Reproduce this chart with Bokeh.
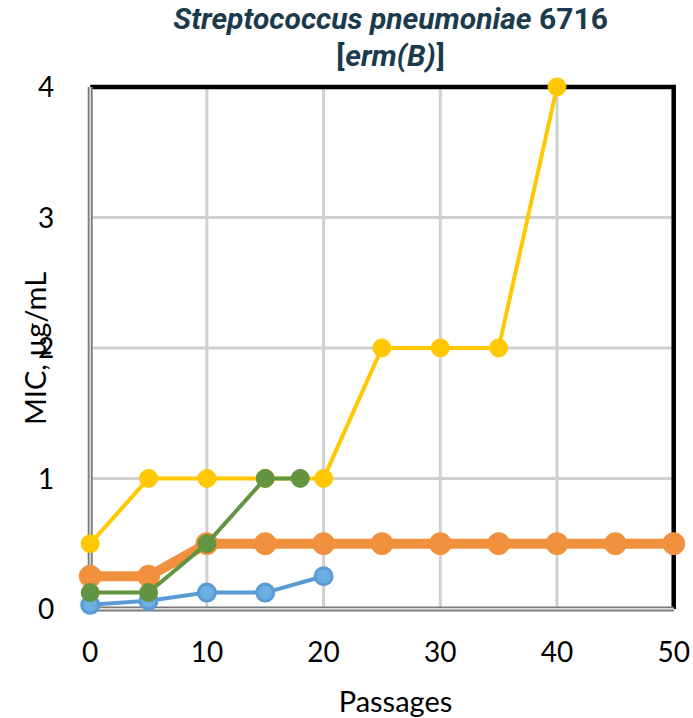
import math
from bokeh.plotting import figure
from bokeh.models import FixedTicker, Range1d, Label
from bokeh.embed import file_html
from bokeh.resources import INLINE

# ---- data ----
x_ticks = [0, 10, 20, 30, 40, 50]
y_ticks = [0, 1, 2, 3, 4]

passages_blue = [0, 5, 10, 15, 20]
mic_blue = [0.03125, 0.0625, 0.125, 0.125, 0.25]

passages_orange = [0, 5, 10, 15, 20, 25, 30, 35, 40, 45, 50]
mic_orange = [0.25, 0.25, 0.5, 0.5, 0.5, 0.5, 0.5, 0.5, 0.5, 0.5, 0.5]

passages_yellow = [0, 5, 10, 15, 20, 25, 30, 35, 40]
mic_yellow = [0.5, 1, 1, 1, 1, 2, 2, 2, 4]

passages_green = [0, 5, 10, 15, 18]
mic_green = [0.125, 0.125, 0.5, 1, 1]

title_species = "Streptococcus pneumoniae"
title_strain = "6716"
title_gene = "erm(B)"
x_label = "Passages"
y_label = "MIC, \u00b5g/mL"

FONT = "Lato"
TITLE_FONT = "Roboto"
TITLE_COLOR = "#1B3A4D"

# ---- layout: the frame fills the whole canvas, axes sit at x=0 / y=0 ----
W, H = 693, 718
PX_X, X_ZERO_PX = 11.67, 89.7     # px per passage, canvas x of passage 0
PX_Y, Y_TOP_PX = 130.5, 86.4      # px per MIC unit, canvas y of MIC 4
X0 = -X_ZERO_PX / PX_X
X1 = X0 + W / PX_X
Y1 = y_ticks[-1] + Y_TOP_PX / PX_Y
Y0 = Y1 - H / PX_Y

def cx(px):
    return X0 + px / PX_X
def cy(py):
    return Y1 - py / PX_Y

p = figure(
    width=W, height=H,
    x_range=Range1d(X0, X1), y_range=Range1d(Y0, Y1),
    output_backend="svg", toolbar_location=None,
    min_border=0,
)
p.title.visible = False
p.outline_line_color = None
p.grid.visible = False
p.background_fill_color = "white"
p.border_fill_color = "white"

# gridlines
p.segment(x0=x_ticks[1:-1], y0=[y_ticks[0]] * 4, x1=x_ticks[1:-1], y1=[y_ticks[-1]] * 4,
          line_color="#D0D0D0", line_width=3)
p.segment(x0=[x_ticks[0]] * 3, y0=y_ticks[1:-1], x1=[x_ticks[-1]] * 3, y1=y_ticks[1:-1],
          line_color="#D0D0D0", line_width=3)

# box: top/right black, left/bottom gray double lines
p.line([x_ticks[0], x_ticks[-1], x_ticks[-1]], [y_ticks[-1], y_ticks[-1], y_ticks[0]],
       line_color="black", line_width=4.5, line_join="miter")
for w, c in ((5, "#7A7A7A"), (1.6, "#DADADA")):
    p.line([x_ticks[0], x_ticks[0], x_ticks[-1]], [y_ticks[-1], y_ticks[0], y_ticks[0]],
           line_color=c, line_width=w, line_join="miter")

# series
p.line(passages_blue, mic_blue, line_color="#5B9BD5", line_width=4)
p.scatter(passages_blue, mic_blue, size=17, fill_color="#6AAEE2", line_color="#5B9BD5", line_width=3)

p.line(passages_orange, mic_orange, line_color="#F2913D", line_width=10)
p.scatter(passages_orange, mic_orange, size=22, fill_color="#F2913D", line_color="#F2913D")

p.line(passages_yellow, mic_yellow, line_color="#FFC800", line_width=4)
p.scatter(passages_yellow, mic_yellow, size=18, fill_color="#FFC800", line_color="#FFC800")

p.line(passages_green, mic_green, line_color="#629441", line_width=4)
p.scatter(passages_green, mic_green, size=18, fill_color="#629441", line_color="#629441")

# title (bold; species and gene in italics)
def tlabel(text, x, y, align, style, font=TITLE_FONT, size="30px", color=TITLE_COLOR, angle=0):
    p.add_layout(Label(x=x, y=y, text=text, text_align=align, text_baseline="alphabetic",
                       text_font=font, text_font_size=size, text_font_style=style,
                       text_color=color, angle=angle))

junction = 531
tlabel(title_species, cx(junction), cy(18), "right", "bold italic")
tlabel(title_strain, cx(junction + 7.5), cy(18), "left", "bold")
center, half = 390, 46
tlabel(title_gene, cx(center), cy(55), "center", "bold italic")
tlabel("[", cx(center - half), cy(55), "right", "bold")
tlabel("]", cx(center + half), cy(55), "left", "bold")

# axis titles
tlabel(x_label, cx(395), cy(700), "center", "normal", font=FONT, size="29px", color="black")
tlabel(y_label, cx(34), cy(348), "center", "normal", font=FONT, size="29px", color="black",
       angle=math.pi / 2)

# axes (tick labels only)
for ax in (p.xaxis[0], p.yaxis[0]):
    ax.fixed_location = 0
    ax.axis_line_color = None
    ax.major_tick_line_color = None
    ax.minor_tick_line_color = None
    ax.major_label_text_font = FONT
    ax.major_label_text_font_size = "28px"
    ax.major_label_text_color = "black"

p.xaxis.ticker = FixedTicker(ticks=x_ticks)
p.yaxis.ticker = FixedTicker(ticks=y_ticks)
p.xaxis.major_label_standoff = 26
p.yaxis.major_label_standoff = 30

open("out.html", "w").write(file_html(p, INLINE))
